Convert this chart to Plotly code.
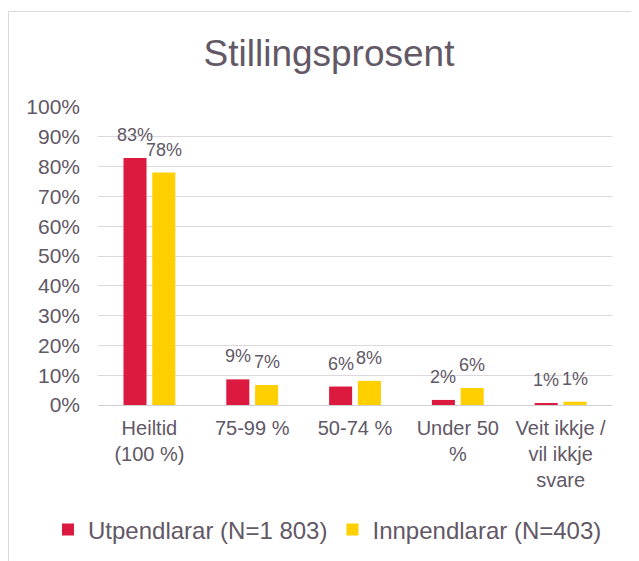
import plotly.graph_objects as go

categories = ["Heiltid<br>(100 %)", "75-99 %", "50-74 %", "Under 50<br>%", "Veit ikkje /<br>vil ikkje<br>svare"]
utpendlarar = [0.829, 0.086, 0.062, 0.017, 0.006]
innpendlarar = [0.780, 0.067, 0.081, 0.057, 0.011]
series_names = ["Utpendlarar (N=1 803)", "Innpendlarar (N=403)"]
y_ticks = [i / 10 for i in range(11)]

# the page body adds an 8px offset, so the figure is laid out in (screen - 8) coordinates
OFF = 8
W, H = 639 - OFF, 561 - OFF
L, T = 98 - OFF, 107 - OFF
R, B = W - (612 - OFF), H - (405 - OFF)
pw, ph = W - L - R, H - T - B


def px_x(sx):
    return (sx - OFF - L) / pw


def px_y(sy):
    return (T + ph - (sy - OFF)) / ph


text_col = "#625866"
grid_col = "#DCD8DD"
font_fam = "Arial, Liberation Sans, sans-serif"
bargap = 0.44
slot = (1 - bargap) / 2

fig = go.Figure()
for k, (name, vals, col) in enumerate([(series_names[0], utpendlarar, "#DC1A40"),
                                       (series_names[1], innpendlarar, "#FFCF00")]):
    fig.add_trace(go.Bar(
        x=categories, y=vals, name=name,
        marker=dict(color=col, line=dict(width=0)),
        hoverinfo="skip",
    ))
    # data labels sit a bit higher above the bars than plotly's own outside text
    off = (k - 0.5) * slot
    for j, v in enumerate(vals):
        fig.add_annotation(x=j + off, y=v, xref="x", yref="y",
                           text=f"{round(v * 100):.0f}%", showarrow=False,
                           yanchor="bottom", yshift=11,
                           font=dict(size=18, color=text_col))

# outer chart frame
fig.add_shape(type="rect", xref="paper", yref="paper",
              x0=px_x(8.5), x1=px_x(660), y0=px_y(580), y1=px_y(11.5),
              line=dict(color="#D9D9D9", width=1), fillcolor="rgba(0,0,0,0)")

fig.update_layout(
    width=W, height=H,
    margin=dict(l=L, r=R, t=T, b=B, autoexpand=False),
    paper_bgcolor="white", plot_bgcolor="white",
    font=dict(family=font_fam, color=text_col),
    title=dict(text="Stillingsprosent", x=(329 - OFF) / W, xanchor="center",
               y=1 - (53 - OFF) / H, yanchor="middle",
               font=dict(size=37, color=text_col)),
    barmode="group", bargap=bargap, bargroupgap=0.2,
    showlegend=True,
    legend=dict(orientation="h", xref="paper", yref="paper",
                x=px_x(48), xanchor="left",
                y=px_y(530), yanchor="middle",
                font=dict(size=24, color=text_col), itemwidth=30,
                traceorder="normal"),
    xaxis=dict(tickfont=dict(size=20, color=text_col), showline=True,
               linecolor="#D3CED4", linewidth=1, showgrid=False, ticks="",
               ticklabelstandoff=5),
    yaxis=dict(range=[0, 1], tickvals=y_ticks, tickformat=".0%",
               tickfont=dict(size=21, color=text_col),
               showgrid=True, gridcolor=grid_col, gridwidth=1,
               zeroline=False, showline=False, ticklabelstandoff=17),
)

fig.write_html("out.html")
